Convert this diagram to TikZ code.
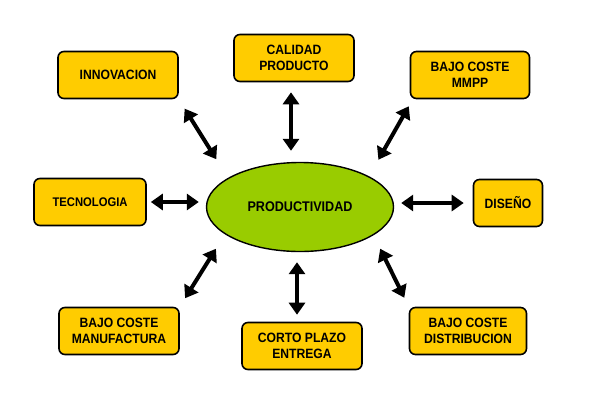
\documentclass[tikz,border=0pt]{standalone}
\usepackage{fontspec}
\setmainfont{Liberation Sans}
\newfontfamily\etiq[FakeStretch=0.9]{Liberation Sans}
\usetikzlibrary{positioning,arrows.meta,shapes.geometric}
\definecolor{oro}{RGB}{255,204,0}
\definecolor{lima}{RGB}{153,204,0}
\tikzset{
  factor/.style={draw=black, line width=1.6pt, fill=oro, rounded corners=6pt,
    minimum height=47pt, align=center, inner sep=2pt,
    font=\etiq\fontsize{13.5}{15.5}\selectfont\bfseries},
  centro/.style={ellipse, draw=black, line width=1.4pt, fill=lima,
    minimum width=187pt, minimum height=89pt,
    font=\etiq\fontsize{14}{16}\selectfont\bfseries},
  flecha/.style={line width=4pt,
    {Triangle[length=12pt,width=16pt]}-{Triangle[length=12pt,width=16pt]}}
}
\begin{document}
\begin{tikzpicture}[x=1pt, y=-1pt]
    \useasboundingbox (0,0) rectangle (609,407);
    \node[centro] (prod) at (300,207) {PRODUCTIVIDAD};
    %
    \node[factor, minimum width=120pt] (innov) at (118,75) {INNOVACION};
    \node[factor, minimum width=120pt] (calidad) at (294,58) {CALIDAD\\PRODUCTO};
    \node[factor, minimum width=119pt] (mmpp) at (470,75) {BAJO COSTE\\MMPP};
    \node[factor, minimum width=112pt, font=\etiq\fontsize{12.5}{14}\selectfont\bfseries] (tecno) at (90,202) {TECNOLOGIA};
    \node[factor, minimum width=69pt] (diseno) at (508,203) {DISEÑO};
    \node[factor, minimum width=120pt] (manuf) at (119,331) {BAJO COSTE\\MANUFACTURA};
    \node[factor, minimum width=120pt] (entrega) at (302,346) {CORTO PLAZO\\ENTREGA};
    \node[factor, minimum width=117pt] (distrib) at (468,331) {BAJO COSTE\\DISTRIBUCION};
    %
    \draw[flecha, shorten <=11pt, shorten >=22pt] (innov.south east) -- (prod.158);
    \draw[flecha, shorten <=10pt, shorten >=11pt] ([xshift=-3pt]calidad.south) -- ([xshift=-3pt]calidad.south |- prod.north);
    \draw[flecha, shorten <=8pt, shorten >=19pt] ([xshift=3pt]mmpp.south west) -- (prod.24);
    \draw[flecha, shorten <=4pt, shorten >=7pt] (tecno.east) -- (tecno.east -| prod.west);
    \draw[flecha, shorten <=9pt, shorten >=7pt] (diseno.west) -- (diseno.west -| prod.east);
    \draw[flecha, shorten <=10pt, shorten >=17pt] (manuf.north east) -- (prod.200);
    \draw[flecha, shorten <=7pt, shorten >=10pt] ([xshift=-5pt]entrega.north) -- ([xshift=-5pt]entrega.north |- prod.south);
    \draw[flecha, shorten <=10pt, shorten >=15pt] (distrib.north west) -- (prod.339);
\end{tikzpicture}
\end{document}
